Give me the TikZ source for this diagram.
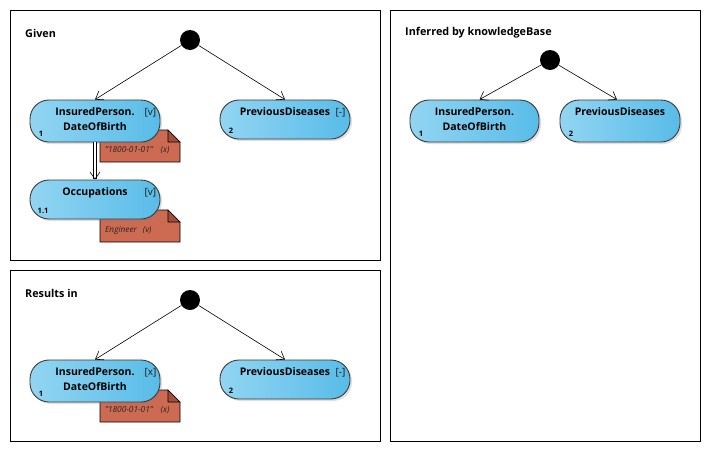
\documentclass[tikz,border=0pt]{standalone}
\usepackage{fontspec}
\setmainfont{Open Sans}
\usetikzlibrary{positioning}
\usetikzlibrary{shadows}
\usetikzlibrary{arrows.meta}

\definecolor{pillleft}{HTML}{92D5F2}
\definecolor{pillright}{HTML}{58BCE8}
\definecolor{pillline}{HTML}{3A3A3A}
\definecolor{notefill}{HTML}{CD6A52}
\definecolor{notefold}{HTML}{A34F3B}

\tikzset{
	pill/.style={draw = pillline, line width = 0.9pt, rounded corners = 19pt, minimum width = 130pt, minimum height = 39pt, inner sep = 0pt, left color = pillleft, right color = pillright, drop shadow = {shadow xshift = 2pt, shadow yshift = -2pt, opacity = 0.25}},
	title/.style={font = \bfseries\fontsize{10.5}{15}\selectfont, align = center, inner sep = 0pt},
	tag/.style={font = \fontsize{10}{12}\selectfont, inner sep = 0pt, text = black!90},
	num/.style={font = \bfseries\fontsize{7.5}{9}\selectfont, inner sep = 0pt, anchor = south west},
	heading/.style={font = \bfseries\fontsize{10.8}{13}\selectfont, inner sep = 0pt, anchor = west},
	dot/.style={circle, fill = black, minimum size = 20pt, inner sep = 0pt},
	frame/.style={draw = black, line width = 0.8pt},
	link/.style={-{Straight Barb[length = 7pt, width = 10pt]}, line width = 0.6pt},
	notetext/.style={font = \itshape\fontsize{8.3}{10}\selectfont, inner sep = 0pt, text = black!85, anchor = west}
}

% note with folded corner, #2,#3 = top left corner
\newcommand{\notebox}[4]{%
	\filldraw[fill = notefill, draw = black, line width = 0.6pt] (#2,#3) -- ++(68,0) -- ++(12,12) -- ++(0,20) -- ++(-80,0) -- cycle;
	\filldraw[fill = notefold, draw = black, line width = 0.6pt] (#2+68,#3) -- ++(0,12) -- ++(12,0) -- cycle;
	\node[notetext] (#1) at (#2+5,#3+20) {#4};
}

\begin{document}
\begin{tikzpicture}[x = 1pt, y = -1pt]
		
		\useasboundingbox (0,0) rectangle (710,448);
		
		% frames
		\draw[frame] (10,10) rectangle (380,260);
		\draw[frame] (10,270) rectangle (380,441);
		\draw[frame] (390,10) rectangle (700,441);
		
		\node[heading] at (25,33) (given) {Given};
		\node[heading] at (25,293) (results) {Results in};
		\node[heading] at (405,33) (inferred) {Inferred by knowledgeBase};
		
		% Given
		\notebox{dobval}{100}{130}{"1800-01-01"\hspace{8pt}(x)}
		\notebox{occval}{100}{210}{Engineer\hspace{6pt}(v)}
		
		\node[dot] at (190,40) (root) {};
		\node[pill, minimum height = 42pt] at (95,121) (dob) {};
		\node[pill] at (285,119.5) (prev) {};
		\node[pill] at (95,199.5) (occ) {};
		
		\node[title, below = 8pt of dob.north] (dobname) {InsuredPerson.\\DateOfBirth};
		\node[title, below = 8pt of prev.north] (prevname) {PreviousDiseases};
		\node[title, below = 8pt of occ.north] (occname) {Occupations};
		\node[tag] at ([xshift = -10pt, yshift = -13pt]dob.north east) (dobtag) {[v]};
		\node[tag] at ([xshift = -10pt, yshift = -13pt]prev.north east) (prevtag) {[-]};
		\node[tag] at ([xshift = -10pt, yshift = -13pt]occ.north east) (occtag) {[v]};
		\node[num] at ([xshift = 9pt, yshift = 6pt]dob.south west) (dobnum) {1};
		\node[num] at ([xshift = 9pt, yshift = 6pt]prev.south west) (prevnum) {2};
		\node[num] at ([xshift = 8pt, yshift = 6pt]occ.south west) (occnum) {1.1};
		
		% Results in
		\notebox{resval}{100}{390}{"1800-01-01"\hspace{8pt}(x)}
		
		\node[dot] at (190,300) (resroot) {};
		\node[pill, minimum height = 42pt] at (95,381) (resdob) {};
		\node[pill] at (285,379.5) (resprev) {};
		
		\node[title, below = 8pt of resdob.north] (resdobname) {InsuredPerson.\\DateOfBirth};
		\node[title, below = 8pt of resprev.north] (resprevname) {PreviousDiseases};
		\node[tag] at ([xshift = -10pt, yshift = -13pt]resdob.north east) (resdobtag) {[x]};
		\node[tag] at ([xshift = -10pt, yshift = -13pt]resprev.north east) (resprevtag) {[-]};
		\node[num] at ([xshift = 9pt, yshift = 6pt]resdob.south west) (resdobnum) {1};
		\node[num] at ([xshift = 9pt, yshift = 6pt]resprev.south west) (resprevnum) {2};
		
		% Inferred by knowledgeBase
		\node[dot] at (550,60) (infroot) {};
		\node[pill, minimum height = 42pt, minimum width = 129pt] at (474.5,121) (infdob) {};
		\node[pill, minimum height = 42pt, minimum width = 120pt] at (620,121) (infprev) {};
		
		\node[title, below = 8pt of infdob.north] (infdobname) {InsuredPerson.\\DateOfBirth};
		\node[title, below = 8pt of infprev.north] (infprevname) {PreviousDiseases};
		\node[num] at ([xshift = 9pt, yshift = 6pt]infdob.south west) (infdobnum) {1};
		\node[num] at ([xshift = 9pt, yshift = 6pt]infprev.south west) (infprevnum) {2};
		
		\path
		(root) edge[link] (dob.north)
		(root) edge[link] (prev.north)
		(dob) edge[link, double, double distance = 2pt] (occ)
		(resroot) edge[link] (resdob.north)
		(resroot) edge[link] (resprev.north)
		(infroot) edge[link] ([xshift = 5pt]infdob.north)
		(infroot) edge[link] ([xshift = -3pt]infprev.north)
		;
		
\end{tikzpicture}
\end{document}
